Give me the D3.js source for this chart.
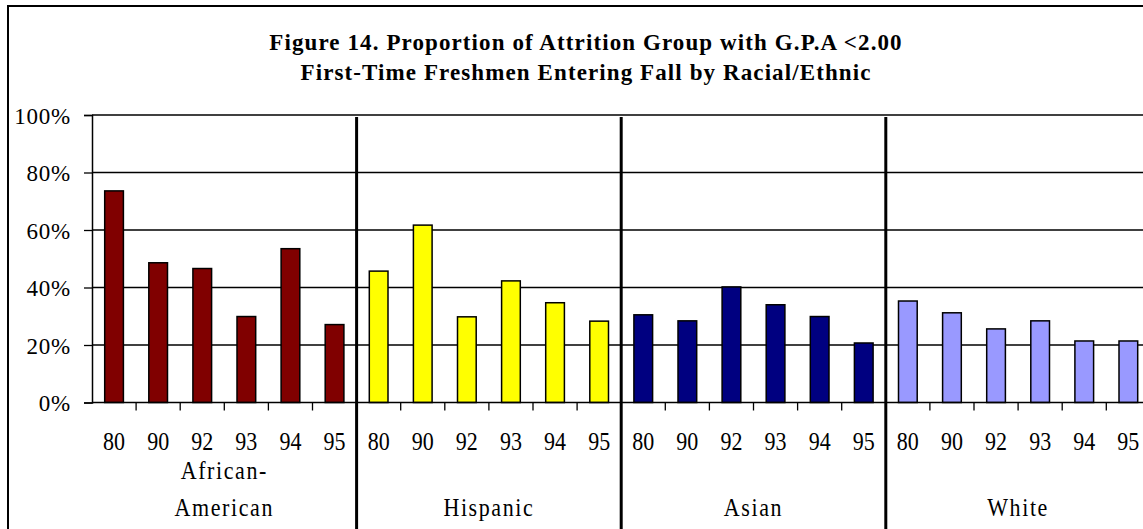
<!DOCTYPE html>
<html lang="en">
<head>
  <meta charset="utf-8">
  <title>Figure 14</title>
  <style>
    body { margin: 0; background: #fff; }
    text { font-family: "Liberation Serif", "Times New Roman", serif; fill: #000; }
  </style>
</head>
<body>
<svg width="1143" height="529"></svg>
<script src="https://d3js.org/d3.v7.min.js"></script>
<script>
  // data
  var groups = ["African-American", "Hispanic", "Asian", "White"];
  var groupLabels = [["African-", "American"], ["Hispanic"], ["Asian"], ["White"]];
  var years = ["80", "90", "92", "93", "94", "95"];
  var africanAmerican = [73.6, 48.6, 46.6, 29.9, 53.5, 27.1];
  var hispanic = [45.7, 61.7, 29.8, 42.3, 34.7, 28.3];
  var asian = [30.5, 28.4, 40.2, 34.0, 29.9, 20.7];
  var white = [35.3, 31.2, 25.6, 28.4, 21.4, 21.4];
  var colors = ["#800000", "#ffff00", "#000080", "#9999ff"];
  var yTicks = [0, 20, 40, 60, 80, 100];
  var titleLines = ["Figure 14. Proportion of Attrition Group with G.P.A <2.00",
                    "First-Time Freshmen Entering Fall by Racial/Ethnic"];

  var seriesValues = [africanAmerican, hispanic, asian, white];
  var data = [];
  groups.forEach(function(g, gi) {
    years.forEach(function(yr, yi) {
      data.push({group: g, gi: gi, year: yr, key: g + "-" + yr, value: seriesValues[gi][yi]});
    });
  });

  var svg = d3.select("svg"),
      plotLeft = 92, plotTop = 115, plotBottom = 402.5,
      step = 44.1,
      plotRight = plotLeft + step * data.length;

  var x = d3.scaleBand()
    .domain(data.map(function(d) { return d.key; }))
    .range([plotLeft, plotRight])
    .paddingInner(0.576)
    .paddingOuter(0.288);

  var y = d3.scaleLinear().domain([0, 100]).range([plotBottom, plotTop]);

  function boundary(i) { return x(data[i].key) - x.step() * x.paddingInner() / 2; }

  // outer frame
  svg.append("rect")
    .attr("x", 8).attr("y", 6)
    .attr("width", 1170).attr("height", 540)
    .attr("fill", "none").attr("stroke", "#000").attr("stroke-width", 2);

  // title
  svg.selectAll(".title")
    .data(titleLines)
    .enter().append("text")
    .attr("class", "title")
    .attr("x", 586)
    .attr("y", function(d, i) { return 50 + i * 30; })
    .attr("text-anchor", "middle")
    .style("font-weight", "bold")
    .style("font-size", "23px")
    .style("letter-spacing", "1.1px")
    .text(function(d) { return d; });

  // gridlines
  svg.append("g")
    .selectAll("line")
    .data(yTicks.filter(function(t) { return t > 0; }))
    .enter().append("line")
    .attr("x1", plotLeft).attr("x2", 1143)
    .attr("y1", function(d) { return y(d); })
    .attr("y2", function(d) { return y(d); })
    .attr("stroke", "#000").attr("stroke-width", 1.3);

  // bars
  svg.append("g")
    .selectAll("rect")
    .data(data)
    .enter().append("rect")
    .attr("x", function(d) { return x(d.key); })
    .attr("y", function(d) { return y(d.value); })
    .attr("width", x.bandwidth())
    .attr("height", function(d) { return y(0) - y(d.value); })
    .attr("fill", function(d) { return colors[d.gi]; })
    .attr("stroke", "#000")
    .attr("stroke-width", 1.5);

  // y axis
  var yAxis = svg.append("g")
    .attr("transform", "translate(" + plotLeft + ",0)")
    .call(d3.axisLeft(y).tickValues(yTicks).tickSize(8).tickPadding(13)
      .tickFormat(function(d) { return d + "%"; }));
  yAxis.select(".domain").attr("stroke-width", 1.5);
  yAxis.selectAll(".tick line").attr("stroke-width", 1.3);
  yAxis.selectAll("text")
    .style("font-family", "Liberation Serif, serif")
    .style("font-size", "23px")
    .style("letter-spacing", "0.8px")
    .attr("dy", "0.36em");

  // x axis baseline and ticks at band boundaries
  svg.append("line")
    .attr("x1", plotLeft).attr("x2", 1143)
    .attr("y1", y(0)).attr("y2", y(0))
    .attr("stroke", "#000").attr("stroke-width", 1.3);

  var bounds = d3.range(1, data.length).filter(function(i) { return i % years.length !== 0; });
  svg.append("g")
    .selectAll("line")
    .data(bounds)
    .enter().append("line")
    .attr("x1", boundary).attr("x2", boundary)
    .attr("y1", y(0)).attr("y2", y(0) + 8)
    .attr("stroke", "#000").attr("stroke-width", 1.3);

  // group separators
  svg.append("g")
    .selectAll("line")
    .data(d3.range(1, groups.length))
    .enter().append("line")
    .attr("x1", function(gi) { return boundary(gi * years.length); })
    .attr("x2", function(gi) { return boundary(gi * years.length); })
    .attr("y1", y(100) + 2).attr("y2", 529)
    .attr("stroke", "#000").attr("stroke-width", 3);

  // year labels
  svg.append("g")
    .selectAll("text")
    .data(data)
    .enter().append("text")
    .attr("transform", function(d) {
      return "translate(" + (x(d.key) + x.bandwidth() / 2) + ",450) scale(1,1.15)";
    })
    .attr("text-anchor", "middle")
    .style("font-size", "22px")
    .text(function(d) { return d.year; });

  // group labels
  groupLabels.forEach(function(lines, gi) {
    var first = x(data[gi * years.length].key),
        last = x(data[gi * years.length + years.length - 1].key) + x.bandwidth(),
        cx = (first + last) / 2,
        startY = lines.length > 1 ? 479 : 516;
    lines.forEach(function(line, li) {
      svg.append("text")
        .attr("transform", "translate(" + cx + "," + (startY + li * 37) + ") scale(1,1.1)")
        .attr("text-anchor", "middle")
        .style("font-size", "22px")
        .style("letter-spacing", "1.6px")
        .text(line);
    });
  });
</script>
</body>
</html>
